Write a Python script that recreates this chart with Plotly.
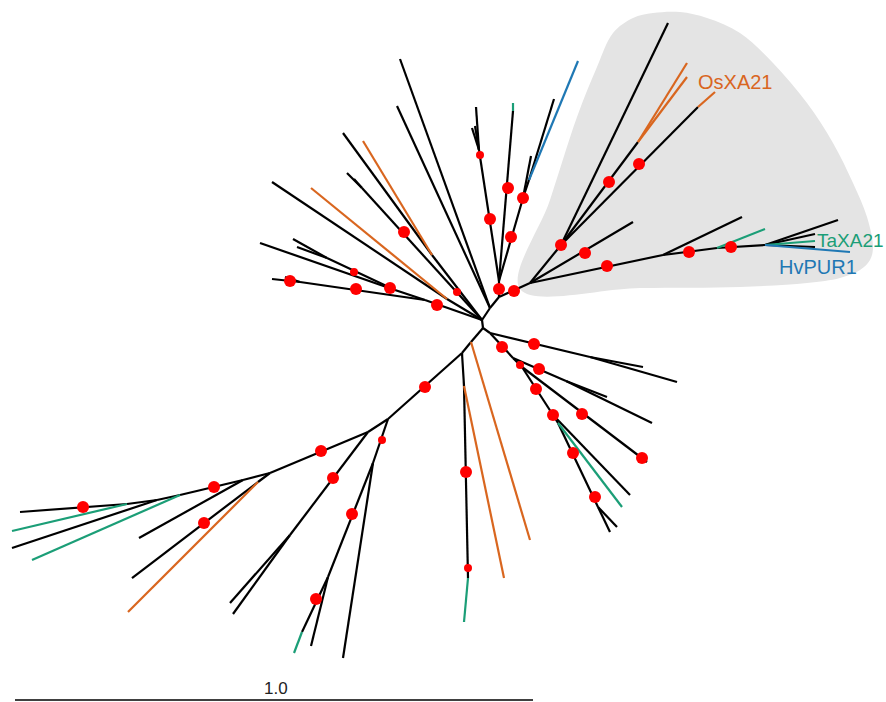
import plotly.graph_objects as go

# ---- tree nodes (layout coordinates of the unrooted tree, y grows downward) ----
node_names = [
    "R1", "R2",
    # upper-middle clade
    "P", "A", "B", "um_t1", "um_t2", "um_n1", "um_t3", "um_t4", "um_t5",
    "um_t6", "um_t6g", "um_n2", "um_t7", "um_q", "um_t8", "um_t9",
    # shaded clade
    "G0", "GN", "g_t1", "Ga", "g_t2", "g_t3", "Gb", "g_t4", "g_t5",
    "Gh1", "g_t6", "Gh2", "g_t7", "Gh3", "g_t8", "g_t9", "g_t10", "g_t11", "g_t12",
    # upper-left clade
    "Xa1", "x_t1", "x_t2", "Xb", "x_t3", "x_t4", "Yc", "x_t5", "x_t6",
    "Z", "Z1", "x_t7", "Z2", "x_t8", "x_t9", "Z3", "x_t10", "x_t11",
    # lower-right clade
    "J", "L1n", "r_t1", "r_t2", "K", "Kn", "r_t3", "r_t4", "K2", "r_t5",
    "Kc", "r_t6", "Kd", "r_t7", "Ke", "r_t8", "r_t9",
    # lower-left clade
    "V", "l_t1", "W", "Wv", "l_t2", "Wv2", "l_t3",
    "M1", "M2", "l_t4", "M3", "l_t5", "M3g", "l_t6",
    "M4", "M5", "l_t7", "l_t8", "NL", "LA", "l_t9", "LB", "l_t10",
    "LC", "l_t11", "LD", "l_t12", "l_t13", "N2", "l_t14", "l_t15",
]
node_x = [
    482, 483,
    490, 499, 499, 400, 397, 479, 476, 472, 475,
    513, 513, 523, 531, 529, 554, 578,
    530, 561, 668, 638, 687, 687, 698, 715, 633,
    663, 742, 717, 765, 765, 838, 815, 815, 815, 850,
    362, 347, 354, 432, 343, 363, 447, 272, 311,
    425, 395, 260, 327, 293, 297, 300, 272, 285,
    490, 590, 643, 677, 513, 566, 607, 652, 522, 647,
    553, 630, 558, 622, 598, 610, 617,
    471, 530, 462, 464, 504, 468, 464,
    388, 373, 343, 328, 311, 302, 294,
    368, 290, 230, 233, 270, 243, 139, 180, 32,
    157, 12, 127, 12, 20, 258, 128, 132,
]
node_y = [
    320, 328,
    308, 297, 281, 59, 106, 150, 107, 128, 126,
    111, 103, 198, 156, 180, 99, 61,
    283, 245, 23, 142, 63, 77, 107, 92, 222,
    255, 217, 248, 229, 245, 220, 234, 241, 247, 252,
    188, 173, 179, 255, 133, 141, 299, 182, 188,
    300, 290, 243, 258, 239, 247, 282, 279, 277,
    333, 357, 367, 382, 358, 381, 397, 423, 367, 462,
    415, 495, 423, 507, 507, 532, 527,
    342, 540, 353, 386, 578, 578, 622,
    419, 463, 658, 577, 646, 632, 653,
    432, 535, 603, 614, 473, 480, 538, 495, 560,
    500, 548, 504, 531, 512, 482, 612, 578,
]

# ---- branches: parent, child, branch colour group ----
edge_parent = [
    "R1", "R1", "P", "P", "P", "A", "B", "um_n1", "um_n1", "um_n1",
    "B", "um_t6", "B", "um_n2", "um_n2", "um_q", "um_q",
    "A", "G0", "GN", "GN", "Ga", "Ga", "GN", "Gb", "G0",
    "G0", "Gh1", "Gh1", "Gh2", "Gh2", "Gh3", "Gh3", "Gh3", "Gh3", "Gh3",
    "R1", "Xa1", "Xa1", "R1", "Xb", "Xb", "R1", "Yc", "Yc",
    "R1", "Z", "Z1", "Z1", "Z2", "Z2", "Z", "Z3", "Z3",
    "R2", "J", "L1n", "L1n", "J", "K", "Kn", "Kn", "K", "K2",
    "K2", "Kc", "Kc", "Kd", "Kd", "Ke", "Ke",
    "R2", "V", "V", "W", "Wv", "Wv", "Wv2",
    "W", "M1", "M2", "M2", "M3", "M3", "M3g",
    "M1", "M4", "M5", "M5", "M4", "NL", "LA", "LA", "LB",
    "LB", "LC", "LC", "LD", "LD", "NL", "N2", "N2",
]
edge_child = [
    "R2", "P", "um_t1", "um_t2", "A", "B", "um_n1", "um_t3", "um_t4", "um_t5",
    "um_t6", "um_t6g", "um_n2", "um_t7", "um_q", "um_t8", "um_t9",
    "G0", "GN", "g_t1", "Ga", "g_t2", "g_t3", "Gb", "g_t4", "g_t5",
    "Gh1", "g_t6", "Gh2", "g_t7", "Gh3", "g_t8", "g_t9", "g_t10", "g_t11", "g_t12",
    "Xa1", "x_t1", "x_t2", "Xb", "x_t3", "x_t4", "Yc", "x_t5", "x_t6",
    "Z", "Z1", "x_t7", "Z2", "x_t8", "x_t9", "Z3", "x_t10", "x_t11",
    "J", "L1n", "r_t1", "r_t2", "K", "Kn", "r_t3", "r_t4", "K2", "r_t5",
    "Kc", "r_t6", "Kd", "r_t7", "Ke", "r_t8", "r_t9",
    "V", "l_t1", "W", "Wv", "l_t2", "Wv2", "l_t3",
    "M1", "M2", "l_t4", "M3", "l_t5", "M3g", "l_t6",
    "M4", "M5", "l_t7", "l_t8", "NL", "LA", "l_t9", "LB", "l_t10",
    "LC", "l_t11", "LD", "l_t12", "l_t13", "N2", "l_t14", "l_t15",
]
edge_group = [
    "k", "k", "k", "k", "k", "k", "k", "k", "k", "k",
    "k", "g", "k", "k", "k", "k", "b",
    "k", "k", "k", "k", "o", "o", "k", "o", "k",
    "k", "k", "k", "g", "k", "k", "k", "g", "k", "b",
    "k", "k", "k", "k", "k", "o", "k", "k", "o",
    "k", "k", "k", "k", "k", "k", "k", "k", "k",
    "k", "k", "k", "k", "k", "k", "k", "k", "k", "k",
    "k", "k", "k", "g", "k", "k", "k",
    "k", "o", "k", "k", "o", "k", "g",
    "k", "k", "k", "k", "k", "k", "g",
    "k", "k", "k", "k", "k", "k", "k", "k", "g",
    "k", "k", "k", "g", "k", "k", "o", "k",
]

# ---- supported branches (red dots); strong = large dot ----
support_x = [480, 490, 508, 511, 523, 499, 514,
             561, 609, 639, 585, 607, 689, 731,
             404, 457, 354, 290, 356, 390, 437,
             502, 534, 520, 539, 536, 582, 553, 573, 595, 642,
             466, 468, 425, 382, 352, 316, 333, 321, 214, 204, 83]
support_y = [155, 219, 188, 237, 198, 289, 291,
             245, 182, 164, 253, 266, 252, 247,
             232, 292, 272, 281, 289, 288, 305,
             347, 344, 365, 369, 389, 414, 415, 453, 497, 458,
             472, 568, 387, 440, 514, 599, 478, 451, 487, 523, 507]
support_strong = [False, True, True, True, True, True, True,
                  True, True, True, True, True, True, True,
                  True, False, False, True, True, True, True,
                  True, True, False, True, True, True, True, True, True, True,
                  True, False, True, False, True, True, True, True, True, True, True]

# ---- shaded clade outline ----
hull_x = [520, 550, 577, 597, 613, 633, 653, 680, 707, 740, 773, 807, 833,
          853, 867, 873, 870, 860, 840, 807, 740, 640, 520]
hull_y = [289, 200, 117, 67, 33, 18, 13, 12, 18, 33, 63, 103, 143,
          183, 217, 247, 260, 270, 278, 283, 287, 288, 289]

# ---- gene labels ----
label_text = ["OsXA21", "TaXA21", "HvPUR1"]
label_x = [696, 815, 777]
label_y = [82, 240, 267]
label_size = [20, 19, 20]
label_group = ["o", "g", "b"]

# ---- scale bar ----
scale_label = "1.0"
scale_x = [15, 533]
scale_y = 700

palette = {"k": "#000000", "o": "#d9661f", "g": "#1b9e77", "b": "#1f78b4"}

pos = {n: (x, y) for n, x, y in zip(node_names, node_x, node_y)}

fig = go.Figure()

fig.add_trace(go.Scatter(
    x=hull_x, y=hull_y, mode="lines", fill="toself",
    fillcolor="#e4e4e4", line=dict(color="#e4e4e4", width=0, shape="spline", smoothing=1.0),
    hoverinfo="skip", showlegend=False,
))

for grp in ["k", "o", "g", "b"]:
    xs, ys = [], []
    for p, c, g in zip(edge_parent, edge_child, edge_group):
        if g != grp:
            continue
        x0, y0 = pos[p]
        x1, y1 = pos[c]
        xs += [x0, x1, None]
        ys += [y0, y1, None]
    fig.add_trace(go.Scatter(
        x=xs, y=ys, mode="lines",
        line=dict(color=palette[grp], width=2.2),
        hoverinfo="skip", showlegend=False,
    ))

fig.add_trace(go.Scatter(
    x=support_x, y=support_y, mode="markers",
    marker=dict(color="#ff0000", opacity=1,
                size=[12 if s else 8 for s in support_strong], line=dict(width=0)),
    opacity=1, hoverinfo="skip", showlegend=False,
))

for t, x, y, s, g in zip(label_text, label_x, label_y, label_size, label_group):
    fig.add_annotation(x=x, y=y, text=t, showarrow=False, xanchor="left", yanchor="middle",
                       font=dict(family="Liberation Sans, Arial", size=s, color=palette[g]))

fig.add_trace(go.Scatter(
    x=scale_x, y=[scale_y, scale_y], mode="lines",
    line=dict(color="#000000", width=1.5), hoverinfo="skip", showlegend=False,
))
fig.add_annotation(x=(scale_x[0] + scale_x[1]) / 2 + 2, y=688, text=scale_label, showarrow=False,
                   xanchor="center", yanchor="middle",
                   font=dict(family="Liberation Sans, Arial", size=17, color="#222222"))

fig.update_xaxes(range=[0, 886], visible=False, fixedrange=True)
fig.update_yaxes(range=[702, 0], visible=False, fixedrange=True)
fig.update_layout(
    width=886, height=702, margin=dict(l=0, r=0, t=0, b=0),
    plot_bgcolor="white", paper_bgcolor="white",
)

fig.write_html("out.html")
